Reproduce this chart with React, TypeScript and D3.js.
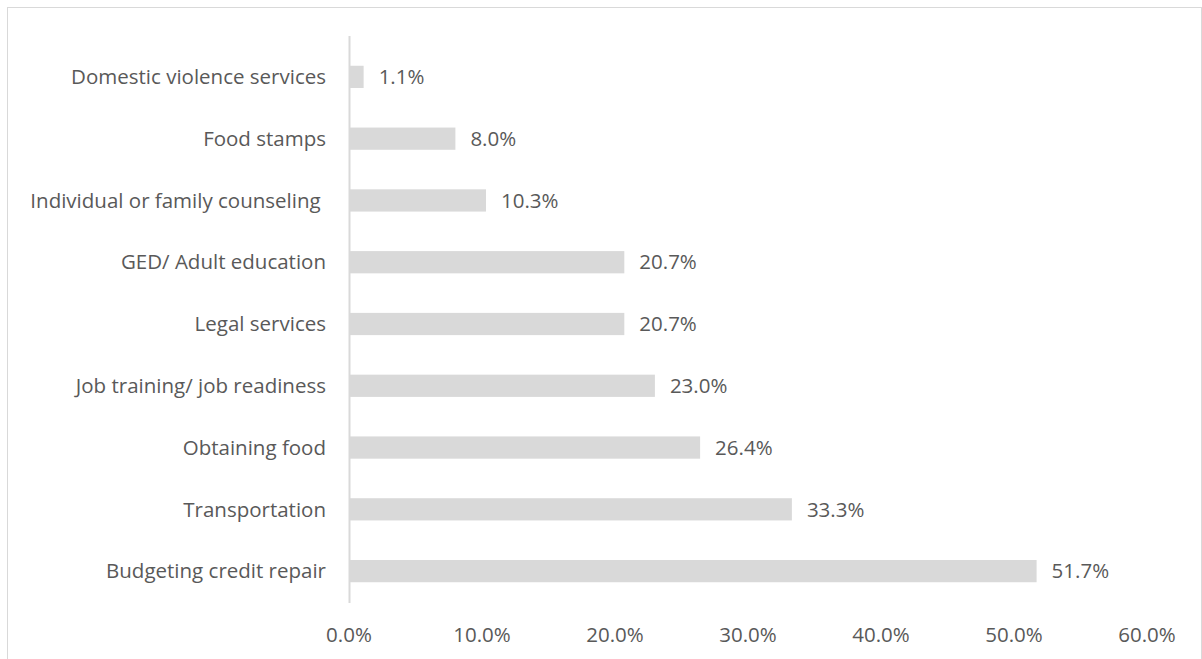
import React from "react";
import * as d3 from "d3";

const categories = [
  "Domestic violence services",
  "Food stamps",
  "Individual or family counseling ",
  "GED/ Adult education",
  "Legal services",
  "Job training/ job readiness",
  "Obtaining food",
  "Transportation",
  "Budgeting credit repair",
];
const values = [1.1, 8.0, 10.3, 20.7, 20.7, 23.0, 26.4, 33.3, 51.7];
const ticks = [0, 10, 20, 30, 40, 50, 60];

const W = 1202;
const H = 659;
const FONT = "'Open Sans', Lato, sans-serif";
const TEXT = "#595959";
const FS = 20.5;

export default function App() {
  const x = d3.scaleLinear().domain([0, 60]).range([349, 1147]);
  const y = d3
    .scaleBand<string>()
    .domain(categories)
    .range([46, 602])
    .paddingInner(0.64)
    .paddingOuter(0.32);
  const fmt = (v: number) => v.toFixed(1) + "%";
  return (
    <svg
      width={W}
      height={H}
      style={{ position: "absolute", left: 0, top: 0 }}
      fontFamily={FONT}
    >
      <rect x={0} y={0} width={W} height={H} fill="#fff" />
      <rect x={7.5} y={7.5} width={1194} height={700} fill="none" stroke="#d9d9d9" strokeWidth={1} />
      {categories.map((c, i) => (
        <g key={c}>
          <rect
            x={x(0)}
            y={y(c)}
            width={x(values[i]) - x(0)}
            height={y.bandwidth()}
            fill="#d9d9d9"
          />
          <text
            x={x(values[i]) + 15}
            y={(y(c) as number) + y.bandwidth() / 2}
            dy="0.35em"
            fontSize={FS}
            fill={TEXT}
          >
            {fmt(values[i])}
          </text>
          <text
            x={326}
            y={(y(c) as number) + y.bandwidth() / 2}
            dy="0.35em"
            textAnchor="end"
            fontSize={FS}
            fill={TEXT}
            style={{ whiteSpace: "pre" }}
          >
            {c}
          </text>
        </g>
      ))}
      <line x1={349.5} x2={349.5} y1={36} y2={603} stroke="#d9d9d9" strokeWidth={2} />
      {ticks.map((t) => (
        <text
          key={t}
          x={x(t)}
          y={635}
          dy="0.35em"
          textAnchor="middle"
          fontSize={FS}
          fill={TEXT}
        >
          {fmt(t)}
        </text>
      ))}
    </svg>
  );
}
